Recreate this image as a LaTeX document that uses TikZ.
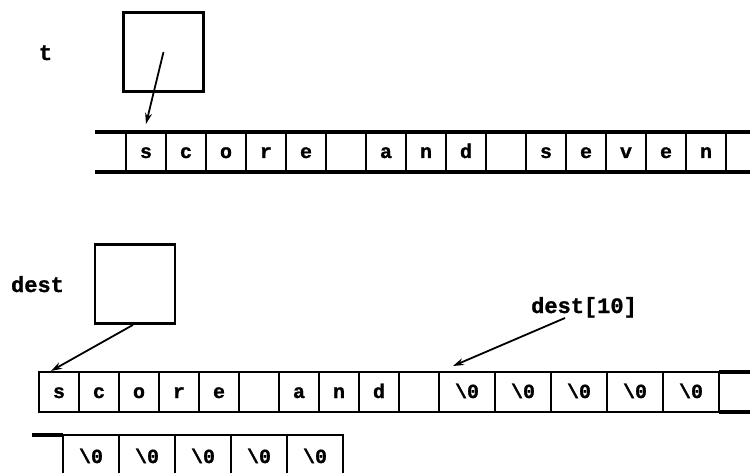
\documentclass[tikz,border=0pt]{standalone}
\usepackage{fontspec}
\setmonofont{Liberation Mono}[BoldFeatures={FakeBold=1.2}]
\usetikzlibrary{arrows.meta}
\begin{document}
\begin{tikzpicture}[x=1pt,y=-1pt,
  txt/.style={font=\ttfamily\bfseries\fontsize{20}{20}\selectfont},
  cell/.style={draw, line width=2pt, minimum width=40pt, minimum height=40pt,
    inner sep=0pt, outer sep=0pt, text height=12pt, text depth=0pt, txt},
  wcell/.style={cell, minimum width=56pt},
  lowcell/.style={wcell, text height=16pt},
  rule/.style={line width=3.2pt},
  ptr/.style={line width=1.8pt, -{Stealth[length=11pt,width=7pt]}},
  var/.style={draw, line width=2.8pt, minimum width=80pt, minimum height=79pt, inner sep=0pt},
  lbl/.style={font=\ttfamily\bfseries\fontsize{22}{22}\selectfont, inner sep=0pt}]
\useasboundingbox (0,0) rectangle (750,473);

% ---- top: t ----
\node[lbl, anchor=base] (tlbl) at (45.5,60) {t};
\node[var] (tbox) at (163.5,52) {};
\foreach \c [count=\i from 0] in {s,c,o,r,e,{},a,n,d,{},s,e,v,e,n}
  \node[cell] (t\i) at (146+40*\i,152) {\c};
\draw[rule] (95,132) -- (750,132);
\draw[rule] (95,172) -- (750,172);
\draw[ptr] (tbox.center) -- ([yshift=8pt]t0.north);

% ---- middle: dest ----
\node[lbl, anchor=base] (dlbl) at (37.5,292) {dest};
\node[var] (dbox) at (135,284) {};
\foreach \c [count=\i from 0] in {s,c,o,r,e,{},a,n,d,{}}
  \node[cell] (m\i) at (59+40*\i,392) {\c};
\foreach \j in {0,...,4}
  \node[wcell] (w\j) at (467+56*\j,392) {\textbackslash 0};
\draw[rule] (w4.north east) -- (750,372);
\draw[rule] (w4.south east) -- (750,412);
\draw[ptr] ([xshift=-2pt]dbox.south) -- ([xshift=12pt,yshift=1pt]m0.north west);

\node[lbl, anchor=base] (ilbl) at (584,313) {dest[10]};
\draw[ptr] ([xshift=-19pt,yshift=-5pt]ilbl.base) -- ([xshift=14pt,yshift=6pt]w0.north west);

% ---- bottom: wrapped row ----
\foreach \j in {0,...,4}
  \node[lowcell] (b\j) at (91+56*\j,455) {\textbackslash 0};
\draw[rule] (32,435) -- (b0.north west);
\end{tikzpicture}
\end{document}
